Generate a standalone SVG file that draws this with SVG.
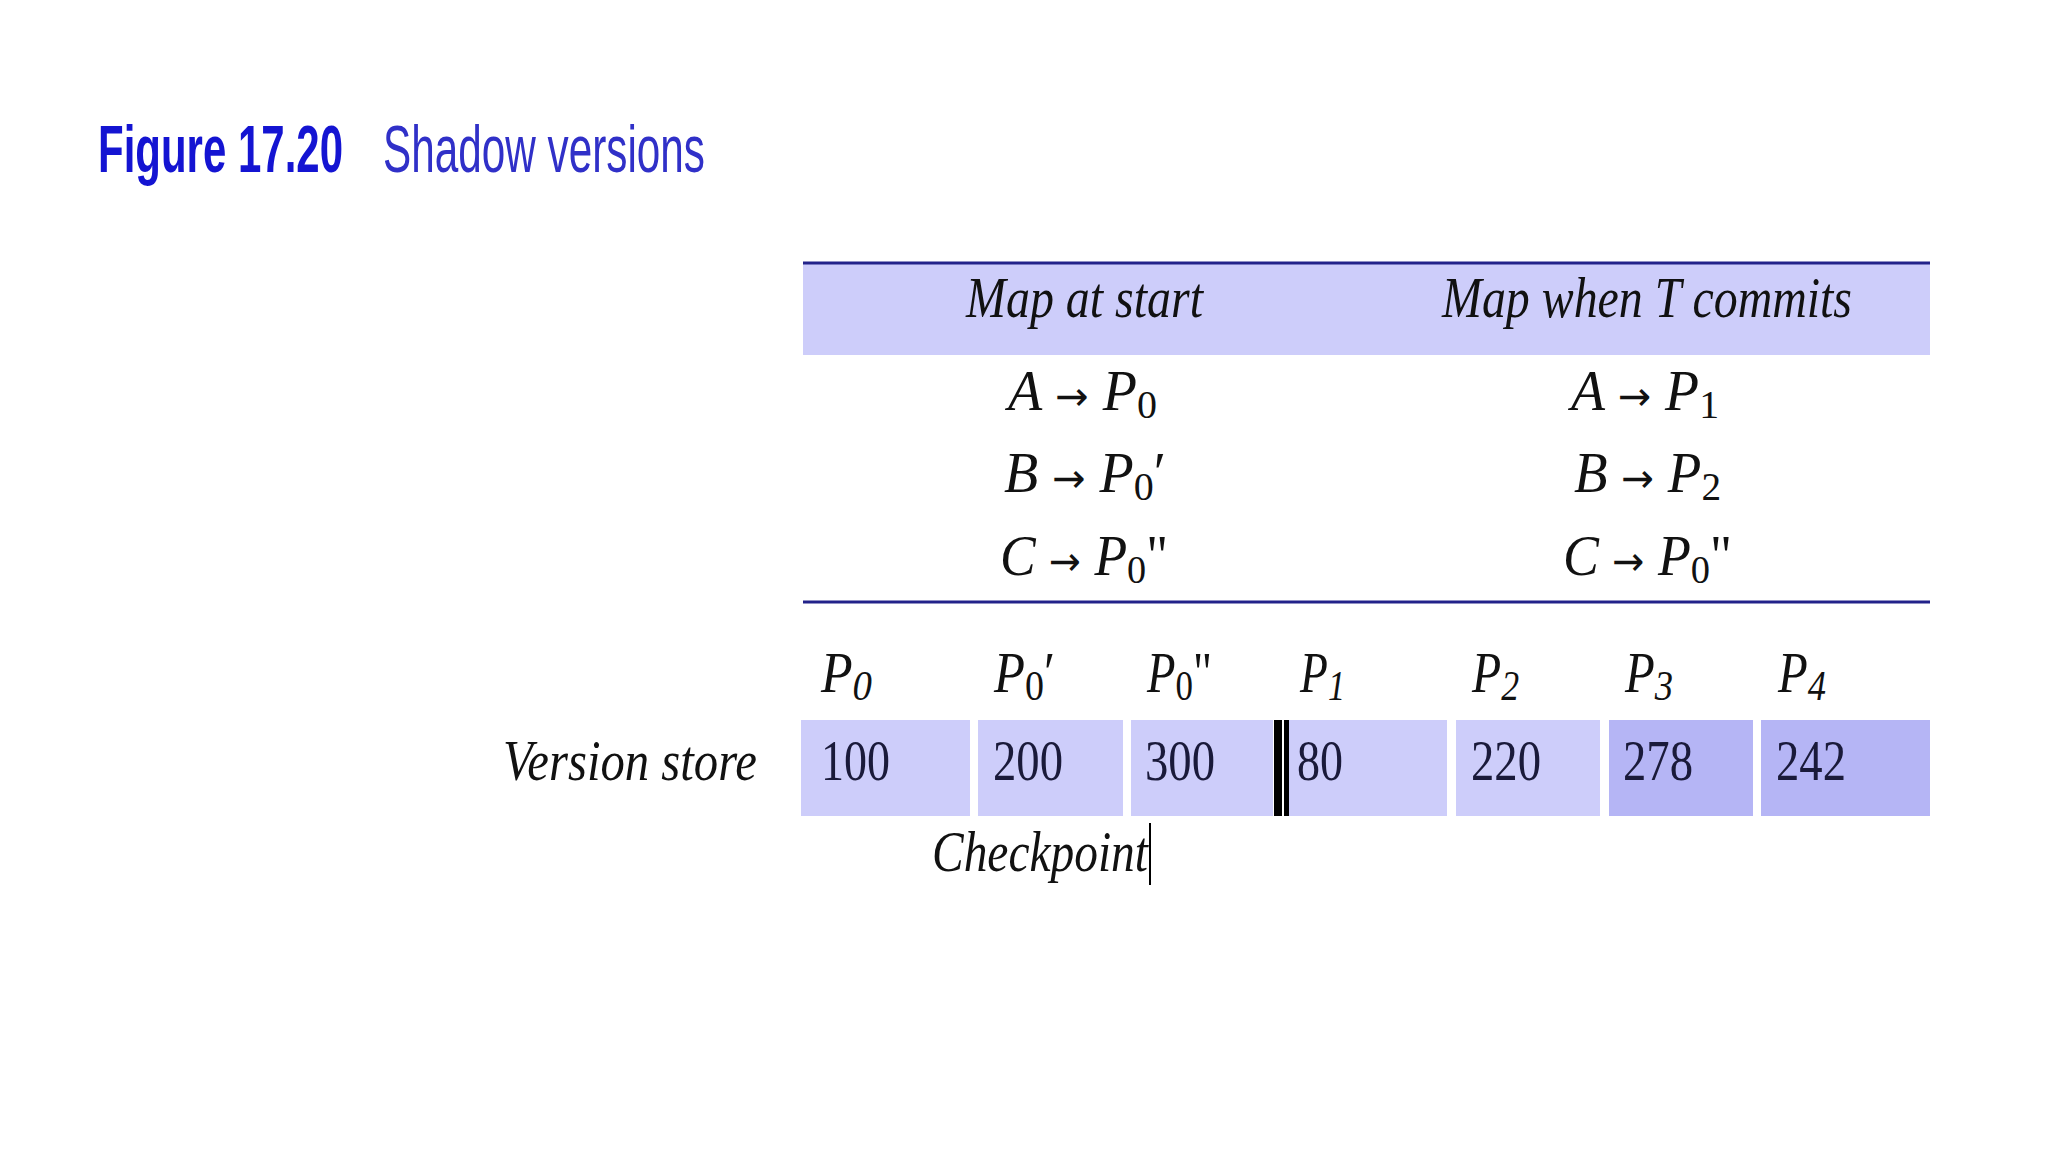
<svg xmlns="http://www.w3.org/2000/svg" width="2048" height="1152" viewBox="0 0 2048 1152">
<style>
.t{font-family:"Liberation Serif","Times New Roman",serif;font-style:italic;fill:#111}
.u{font-style:normal}
.ar{font-family:"DejaVu Sans",sans-serif;font-style:normal;font-size:40px}
.m{font-size:56px}
.h{font-size:57px}
.c{font-family:"Liberation Serif","Times New Roman",serif;font-size:58px;fill:#1a1a3a}
.light{fill:#cdcdfa}
.dark{fill:#b5b5f5}
.rule{stroke:#22228a;stroke-width:3}
</style>
<rect width="2048" height="1152" fill="#ffffff"/>
<g id="title">
<text x="98" y="172" font-family="Liberation Sans, Arial, sans-serif" font-weight="bold" font-size="66" fill="#1414d2" textLength="245" lengthAdjust="spacingAndGlyphs">Figure 17.20</text>
<text x="383" y="172" font-family="Liberation Sans, Arial, sans-serif" font-size="66" fill="#3030c8" textLength="322" lengthAdjust="spacingAndGlyphs">Shadow versions</text>
</g>
<g id="map-table">
<rect x="803" y="262" width="1127" height="93" fill="#cdcdfa"/>
<line class="rule" x1="803" y1="263" x2="1930" y2="263"/>
<line class="rule" x1="803" y1="602" x2="1930" y2="602"/>
<text class="t h" x="966" y="317" textLength="237" lengthAdjust="spacingAndGlyphs">Map at start</text>
<text class="t h" x="1442" y="317" textLength="410" lengthAdjust="spacingAndGlyphs">Map when T commits</text>
<text class="t m" x="1008" y="410" textLength="149" lengthAdjust="spacingAndGlyphs">A <tspan class="ar">→</tspan> P<tspan class="u" font-size="40" dy="8">0</tspan></text>
<text class="t m" x="1004" y="492" textLength="162" lengthAdjust="spacingAndGlyphs">B <tspan class="ar">→</tspan> P<tspan class="u" font-size="40" dy="8">0</tspan><tspan class="u" dy="-8">′</tspan></text>
<text class="t m" x="1000" y="575" textLength="168" lengthAdjust="spacingAndGlyphs">C <tspan class="ar">→</tspan> P<tspan class="u" font-size="40" dy="8">0</tspan><tspan class="u" dy="-8">"</tspan></text>
<text class="t m" x="1571" y="410" textLength="148" lengthAdjust="spacingAndGlyphs">A <tspan class="ar">→</tspan> P<tspan class="u" font-size="40" dy="8">1</tspan></text>
<text class="t m" x="1574" y="492" textLength="147" lengthAdjust="spacingAndGlyphs">B <tspan class="ar">→</tspan> P<tspan class="u" font-size="40" dy="8">2</tspan></text>
<text class="t m" x="1563" y="575" textLength="169" lengthAdjust="spacingAndGlyphs">C <tspan class="ar">→</tspan> P<tspan class="u" font-size="40" dy="8">0</tspan><tspan class="u" dy="-8">"</tspan></text>
</g>
<g id="page-labels">
<text class="t m" x="821" y="692" textLength="51" lengthAdjust="spacingAndGlyphs">P<tspan font-size="42" dy="8">0</tspan></text>
<text class="t m" x="994" y="692" textLength="61" lengthAdjust="spacingAndGlyphs">P<tspan class="u" font-size="42" dy="8">0</tspan><tspan class="u" dy="-8">′</tspan></text>
<text class="t m" x="1147" y="692" textLength="65" lengthAdjust="spacingAndGlyphs">P<tspan class="u" font-size="42" dy="8">0</tspan><tspan class="u" dy="-8">"</tspan></text>
<text class="t m" x="1300" y="692" textLength="45" lengthAdjust="spacingAndGlyphs">P<tspan font-size="42" dy="8">1</tspan></text>
<text class="t m" x="1472" y="692" textLength="47" lengthAdjust="spacingAndGlyphs">P<tspan font-size="42" dy="8">2</tspan></text>
<text class="t m" x="1625" y="692" textLength="48" lengthAdjust="spacingAndGlyphs">P<tspan font-size="42" dy="8">3</tspan></text>
<text class="t m" x="1778" y="692" textLength="48" lengthAdjust="spacingAndGlyphs">P<tspan font-size="42" dy="8">4</tspan></text>
</g>
<g id="version-store">
<text class="t" x="503" y="780" font-size="58" textLength="254" lengthAdjust="spacingAndGlyphs">Version store</text>
<rect class="light" x="801" y="720" width="169" height="96"/>
<rect class="light" x="978" y="720" width="145" height="96"/>
<rect class="light" x="1131" y="720" width="142" height="96"/>
<rect class="light" x="1289" y="720" width="158" height="96"/>
<rect class="light" x="1456" y="720" width="144" height="96"/>
<rect class="dark" x="1609" y="720" width="144" height="96"/>
<rect class="dark" x="1761" y="720" width="169" height="96"/>
<rect x="1274" y="720" width="8" height="96" fill="#000"/>
<rect x="1284" y="720" width="5" height="96" fill="#000"/>
<text class="c" x="821" y="780" textLength="69" lengthAdjust="spacingAndGlyphs">100</text>
<text class="c" x="993" y="780" textLength="70" lengthAdjust="spacingAndGlyphs">200</text>
<text class="c" x="1145" y="780" textLength="70" lengthAdjust="spacingAndGlyphs">300</text>
<text class="c" x="1297" y="780" textLength="46" lengthAdjust="spacingAndGlyphs">80</text>
<text class="c" x="1471" y="780" textLength="70" lengthAdjust="spacingAndGlyphs">220</text>
<text class="c" x="1623" y="780" textLength="70" lengthAdjust="spacingAndGlyphs">278</text>
<text class="c" x="1776" y="780" textLength="70" lengthAdjust="spacingAndGlyphs">242</text>
</g>
<g id="checkpoint">
<text class="t" x="932" y="871" font-size="56" textLength="216" lengthAdjust="spacingAndGlyphs">Checkpoint</text>
<line x1="1150" y1="823" x2="1150" y2="885" stroke="#000" stroke-width="2"/>
</g>
</svg>
